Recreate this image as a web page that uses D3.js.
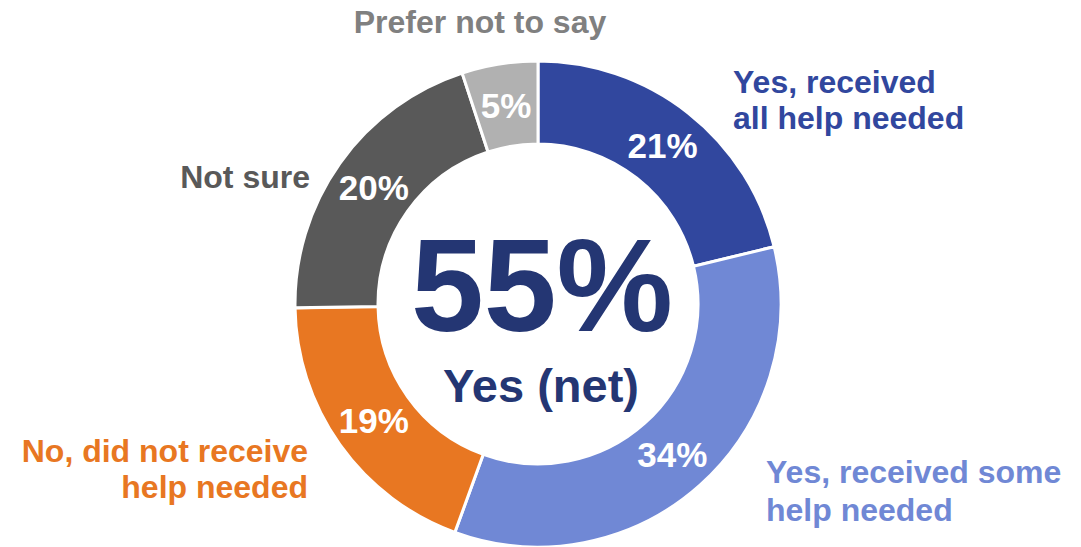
<!DOCTYPE html>
<html>
<head>
<meta charset="utf-8">
<script src="https://cdn.jsdelivr.net/npm/d3@7"></script>
<style>
  html, body { margin: 0; padding: 0; background: #fff; }
  svg { display: block; }
  text { font-family: "Liberation Sans", Arial, sans-serif; font-weight: bold; }
</style>
</head>
<body>
<svg id="chart" width="1081" height="547"></svg>
<script>
// ---- data ----
const categories = [
  "Yes, received all help needed",
  "Yes, received some help needed",
  "No, did not receive help needed",
  "Not sure",
  "Prefer not to say"
];
const values = [21, 34, 19, 20, 5];
const valueLabels = ["21%", "34%", "19%", "20%", "5%"];
const netValue = "55%";
const netLabel = "Yes (net)";

// ---- style / layout ----
const colors = ["#31479E", "#7088D5", "#E87722", "#595959", "#B1B1B1"];
const labelColors = ["#31479E", "#7088D5", "#E87722", "#595959", "#808080"];
const labelLines = [
  ["Yes, received", "all help needed"],
  ["Yes, received some", "help needed"],
  ["No, did not receive", "help needed"],
  ["Not sure"],
  ["Prefer not to say"]
];
const labelLayout = [
  { x: 733, y: 93, anchor: "start", lh: 36 },
  { x: 766, y: 483, anchor: "start", lh: 38 },
  { x: 308, y: 462, anchor: "end", lh: 36 },
  { x: 310, y: 188, anchor: "end", lh: 36 },
  { x: 480, y: 33, anchor: "middle", lh: 36 }
];

const W = 1081, H = 547;
const cx = 538, cy = 304;
const outerR = 243, innerR = 160;

const svg = d3.select("#chart");
const g = svg.append("g").attr("transform", `translate(${cx},${cy})`);

const pie = d3.pie().sort(null).value(d => d.value).startAngle(0).endAngle(2 * Math.PI);
const data = categories.map((c, i) => ({ cat: c, value: values[i], label: valueLabels[i], i }));
const arcs = pie(data);

const arc = d3.arc().innerRadius(innerR).outerRadius(outerR);

g.selectAll("path.slice")
  .data(arcs)
  .join("path")
  .attr("class", "slice")
  .attr("d", arc)
  .attr("fill", d => colors[d.data.i])
  .attr("stroke", "#fff")
  .attr("stroke-width", 3);

g.selectAll("text.pct")
  .data(arcs)
  .join("text")
  .attr("class", "pct")
  .attr("transform", d => `translate(${arc.centroid(d)})`)
  .attr("text-anchor", "middle")
  .attr("dy", "0.36em")
  .attr("fill", "#fff")
  .attr("font-size", 35)
  .text(d => d.data.label);

// center text
g.append("text")
  .attr("x", 4).attr("y", 27)
  .attr("text-anchor", "middle")
  .attr("fill", "#243673")
  .attr("font-size", 131)
  .text(netValue);

g.append("text")
  .attr("x", 3).attr("y", 98)
  .attr("text-anchor", "middle")
  .attr("fill", "#243673")
  .attr("font-size", 47)
  .text(netLabel);

// outer category labels
categories.forEach((c, i) => {
  const L = labelLayout[i];
  const t = svg.append("text")
    .attr("x", L.x).attr("y", L.y)
    .attr("text-anchor", L.anchor)
    .attr("fill", labelColors[i])
    .attr("font-size", 32);
  labelLines[i].forEach((line, j) => {
    t.append("tspan")
      .attr("x", L.x)
      .attr("dy", j === 0 ? 0 : L.lh)
      .text(line);
  });
});
</script>
</body>
</html>
